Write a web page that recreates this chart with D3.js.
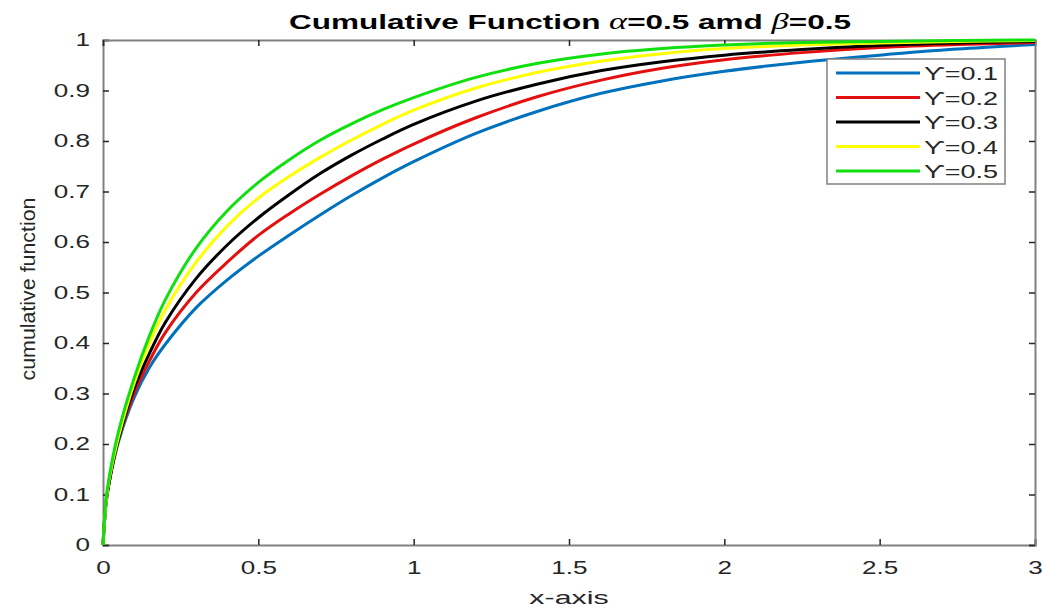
<!DOCTYPE html>
<html>
<head>
<meta charset="utf-8">
<script src="https://cdn.jsdelivr.net/npm/d3@7"></script>
<style>
  body { margin: 0; background: #fff; }
  svg { display: block; font-family: "Liberation Sans", Arial, sans-serif; }
</style>
</head>
<body>
<div id="chart"></div>
<script>
'use strict';

// x grid and curve values
var xs = [0, 0.01, 0.02, 0.05, 0.1, 0.15, 0.2, 0.3, 0.4, 0.5, 0.6, 0.7, 0.8, 0.9, 1.0, 1.2, 1.4, 1.6, 1.8, 2.0, 2.25, 2.5, 2.75, 3.0];
var gamma01 = [0, 0.085, 0.125, 0.205, 0.292, 0.352, 0.397, 0.47, 0.525, 0.572, 0.614, 0.654, 0.692, 0.727, 0.759, 0.815, 0.859, 0.894, 0.919, 0.938, 0.956, 0.970, 0.982, 0.991];
var gamma02 = [0, 0.085, 0.125, 0.21, 0.30, 0.365, 0.42, 0.50, 0.56, 0.613, 0.656, 0.695, 0.731, 0.764, 0.794, 0.846, 0.888, 0.920, 0.944, 0.961, 0.975, 0.985, 0.991, 0.995];
var gamma03 = [0, 0.085, 0.125, 0.21, 0.31, 0.38, 0.44, 0.528, 0.594, 0.648, 0.694, 0.736, 0.772, 0.804, 0.833, 0.879, 0.913, 0.939, 0.957, 0.970, 0.981, 0.989, 0.994, 0.997];
var gamma04 = [0, 0.085, 0.13, 0.215, 0.32, 0.40, 0.465, 0.56, 0.632, 0.687, 0.73, 0.768, 0.802, 0.833, 0.861, 0.905, 0.936, 0.958, 0.973, 0.983, 0.990, 0.994, 0.997, 0.999];
var gamma05 = [0, 0.09, 0.135, 0.225, 0.33, 0.415, 0.485, 0.588, 0.662, 0.718, 0.763, 0.802, 0.834, 0.862, 0.886, 0.926, 0.954, 0.972, 0.983, 0.990, 0.995, 0.997, 0.999, 1.0];

var seriesNames = ['ϒ=0.1', 'ϒ=0.2', 'ϒ=0.3', 'ϒ=0.4', 'ϒ=0.5'];
var seriesValues = [gamma01, gamma02, gamma03, gamma04, gamma05];
var seriesColors = ['#0072bd', '#e41010', '#000000', '#ffff00', '#10e010'];

var xTicks = [0, 0.5, 1, 1.5, 2, 2.5, 3];
var yTicks = [0, 0.1, 0.2, 0.3, 0.4, 0.5, 0.6, 0.7, 0.8, 0.9, 1];

var W = 1043, H = 609;
var margin = {top: 40, right: 8, bottom: 64, left: 103};
var plotW = W - margin.left - margin.right,
    plotH = H - margin.top - margin.bottom;

// the picture is stretched sideways, so text is widened too
var SX = 1.45;

var svg = d3.select('#chart').append('svg')
  .attr('width', W)
  .attr('height', H);

var x = d3.scaleLinear().domain([0, 3]).range([0, plotW]);
var y = d3.scaleLinear().domain([0, 1]).range([plotH, 0]);

var g = svg.append('g')
  .attr('transform', 'translate(' + margin.left + ',' + margin.top + ')');

var axisColor = '#262626';
var fmt = function(d) { return d3.format('')(+d.toFixed(1)); };

// bottom / left axes with inward ticks
var xAxis = g.append('g')
  .attr('transform', 'translate(0,' + plotH + ')')
  .call(d3.axisBottom(x).tickValues(xTicks).tickSize(-6).tickPadding(16).tickFormat(fmt));
var yAxis = g.append('g')
  .call(d3.axisLeft(y).tickValues(yTicks).tickSize(-6).tickPadding(13).tickFormat(fmt));
// top / right mirrored ticks
var xTop = g.append('g')
  .call(d3.axisTop(x).tickValues(xTicks).tickSize(-6).tickFormat(''));
var yRight = g.append('g')
  .attr('transform', 'translate(' + plotW + ',0)')
  .call(d3.axisRight(y).tickValues(yTicks).tickSize(-6).tickFormat(''));

[xAxis, yAxis, xTop, yRight].forEach(function(a) {
  a.select('.domain').attr('stroke', '#808080').attr('stroke-width', 2);
  a.selectAll('.tick line').attr('stroke', axisColor).attr('stroke-width', 1.5);
  a.selectAll('.tick text')
    .attr('fill', axisColor)
    .style('font-size', '18px');
});
xAxis.selectAll('.tick text').attr('transform', 'scale(' + SX + ',1)');
yAxis.selectAll('.tick text').attr('transform', 'translate(-13,0) scale(' + SX + ',1) translate(13,0)');

var line = d3.line()
  .x(function(d) { return x(d[0]); })
  .y(function(d) { return y(d[1]); })
  .curve(d3.curveCatmullRom.alpha(0.5));

seriesValues.forEach(function(vals, i) {
  g.append('path')
    .datum(xs.map(function(v, j) { return [v, vals[j]]; }))
    .attr('fill', 'none')
    .attr('stroke', seriesColors[i])
    .attr('stroke-width', 3)
    .attr('stroke-linejoin', 'round')
    .attr('d', line);
});

// legend
var legend = svg.append('g').attr('transform', 'translate(827,59)');
legend.append('rect')
  .attr('width', 178)
  .attr('height', 125)
  .attr('fill', '#fff')
  .attr('stroke', '#808080')
  .attr('stroke-width', 1.5);
seriesNames.forEach(function(name, i) {
  var ly = 14 + i * 24.5;
  legend.append('line')
    .attr('x1', 9).attr('x2', 93)
    .attr('y1', ly).attr('y2', ly)
    .attr('stroke', seriesColors[i])
    .attr('stroke-width', 3);
  legend.append('text')
    .attr('transform', 'translate(97,' + (ly + 7) + ') scale(1.5,1)')
    .attr('fill', axisColor)
    .style('font-size', '18px')
    .text(name);
});

// title
var title = svg.append('text')
  .attr('transform', 'translate(570,29) scale(1.5,1)')
  .attr('text-anchor', 'middle')
  .attr('fill', '#000')
  .style('font-size', '21px')
  .style('font-weight', 'bold');
title.append('tspan').text('Cumulative Function ');
title.append('tspan').style('font-family', '"Liberation Serif", serif').style('font-style', 'italic').style('font-weight', 'normal').style('font-size', '23px').text('α');
title.append('tspan').text('=0.5 amd ');
title.append('tspan').style('font-family', '"Liberation Serif", serif').style('font-style', 'italic').style('font-weight', 'normal').style('font-size', '23px').text('β');
title.append('tspan').text('=0.5');

// axis labels
svg.append('text')
  .attr('transform', 'translate(' + (margin.left + plotW / 2) + ',604) scale(1.6,1)')
  .attr('text-anchor', 'middle')
  .attr('fill', axisColor)
  .style('font-size', '19px')
  .text('x-axis');

svg.append('text')
  .attr('transform', 'translate(35,289) scale(1.3,1) rotate(-90)')
  .attr('text-anchor', 'middle')
  .attr('fill', axisColor)
  .style('font-size', '16px')
  .attr('textLength', 183)
  .attr('lengthAdjust', 'spacingAndGlyphs')
  .text('cumulative function');
</script>
</body>
</html>
